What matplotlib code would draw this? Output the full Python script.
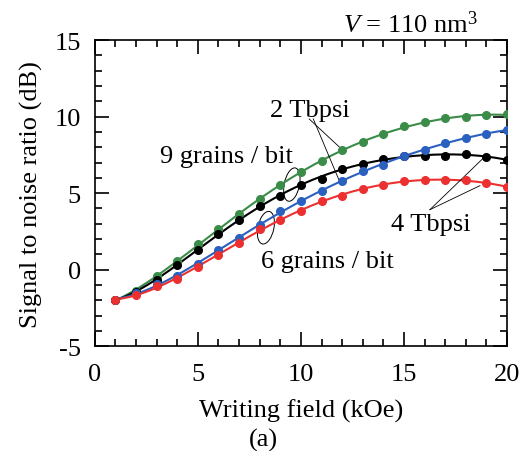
import numpy as np
import matplotlib
matplotlib.use("Agg")
import matplotlib.pyplot as plt
from matplotlib.patches import Ellipse

field = list(range(1, 21))
snr_green = [-1.96, -1.37, -0.44, 0.54, 1.70, 2.66, 3.64, 4.62, 5.56, 6.36,
             7.08, 7.80, 8.32, 8.89, 9.37, 9.65, 9.91, 9.95, 10.09, 10.15]
snr_black = [-1.96, -1.46, -0.65, 0.33, 1.31, 2.35, 3.27, 4.14, 4.84, 5.56,
             5.95, 6.58, 6.93, 7.23, 7.45, 7.45, 7.45, 7.54, 7.37, 7.19]
snr_blue = [-1.96, -1.55, -0.95, -0.39, 0.37, 1.26, 2.07, 2.94, 3.86, 4.51,
            5.12, 5.77, 6.47, 6.82, 7.45, 7.84, 8.28, 8.62, 8.88, 9.12]
snr_red = [-1.96, -1.68, -1.05, -0.59, 0.15, 0.98, 1.74, 2.68, 3.27, 3.86,
           4.47, 4.84, 5.27, 5.56, 5.82, 5.84, 5.84, 5.84, 5.67, 5.41]

colors = {"green": "#3a8c48", "black": "#000000", "blue": "#2a60c0", "red": "#ec3030"}

plt.rcParams['font.family'] = ['Liberation Serif', 'DejaVu Serif']
plt.rcParams['mathtext.fontset'] = 'custom'
plt.rcParams['mathtext.rm'] = 'Liberation Serif'
plt.rcParams['mathtext.it'] = 'Liberation Serif:italic'
plt.rcParams['axes.unicode_minus'] = False

FS = 19

fig = plt.figure(figsize=(5.27, 4.52), dpi=100)
ax = fig.add_axes([0.180, 0.232, 0.782, 0.677])

x = np.array(field, dtype=float)
xs = np.linspace(1, 20, 200)
for ys, c in [(snr_green, "green"), (snr_black, "black"), (snr_blue, "blue"), (snr_red, "red")]:
    p = np.polyfit(x, ys, 5)
    ax.plot(xs, np.polyval(p, xs), color=colors[c], lw=1.5, zorder=2)
    ax.plot(x, ys, 'o', color=colors[c], ms=5.5, zorder=3)

ax.set_xlim(0, 20)
ax.set_ylim(-5, 15)
ax.set_xticks([0, 5, 10, 15, 20])
ax.set_yticks([-5, 0, 5, 10, 15])
ax.set_xticks(range(0, 21), minor=True)
ax.set_yticks(range(-5, 16), minor=True)
ax.tick_params(which='both', direction='in', top=True, right=True, labelsize=FS, width=1.2)
ax.tick_params(which='major', length=10)
ax.tick_params(axis='x', which='major', pad=12)
ax.tick_params(axis='y', which='major', pad=10)
ax.tick_params(which='minor', length=5)
for s in ax.spines.values():
    s.set_linewidth(1.2)

ax.set_xlabel("Writing field (kOe)", fontsize=FS, labelpad=10)
ax.set_ylabel("Signal to noise ratio (dB)", fontsize=FS, labelpad=8)

fig.text(0.50, 0.025, "(a)", ha='center', va='center', fontsize=FS)
fig.text(0.907, 0.945, r"$V$ = 110 nm$^3$", ha='right', va='center', fontsize=FS)

# annotations
ax.text(10.45, 10.45, "2 Tbpsi", ha='center', va='center', fontsize=FS)
ax.plot([10.4, 11.9], [9.85, 7.97], color='k', lw=0.6)
ax.plot([10.6, 11.9], [9.85, 5.69], color='k', lw=0.6)

ax.text(16.3, 3.0, "4 Tbpsi", ha='center', va='center', fontsize=FS)
ax.plot([16.26, 18.93], [3.92, 7.39], color='k', lw=0.6)
ax.plot([16.26, 18.69], [3.92, 5.49], color='k', lw=0.6)

ax.text(6.4, 7.45, "9 grains / bit", ha='center', va='center', fontsize=FS)
ax.add_patch(Ellipse((9.56, 5.56), 0.75, 2.2, angle=-8, fill=False, color='k', lw=0.7))

ax.text(11.3, 0.55, "6 grains / bit", ha='center', va='center', fontsize=FS)
ax.add_patch(Ellipse((8.3, 2.74), 0.78, 2.15, angle=-8, fill=False, color='k', lw=0.7))

fig.savefig("out.png", dpi=100)
